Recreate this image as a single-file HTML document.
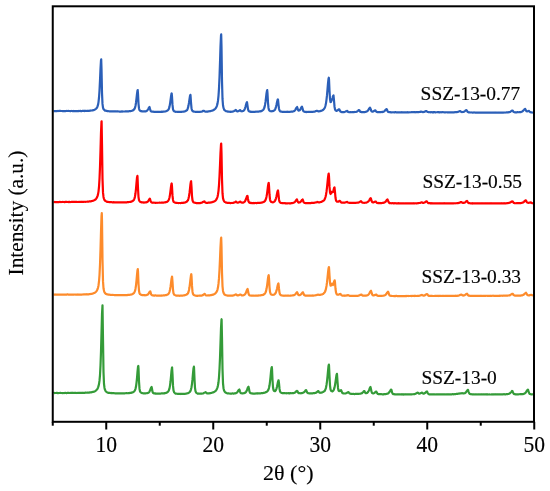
<!DOCTYPE html>
<html><head><meta charset="utf-8"><style>
html,body{margin:0;padding:0;background:#fff;}
body{width:550px;height:491px;overflow:hidden;position:relative;}
svg{position:absolute;left:0;top:0;will-change:transform;}
text{font-family:"Liberation Serif",serif;fill:#000;stroke:#000;stroke-width:0.15px;}
.tk{font-size:22px;}
.sl{font-size:19.4px;}
.ax{font-size:22px;}
.ay{font-size:21.3px;}
</style></head><body>
<svg width="550" height="491" viewBox="0 0 550 491">
<polyline fill="none" stroke="#2b5fb8" stroke-width="2.2" stroke-linejoin="round" points="53.50,111.06 54.00,111.04 54.50,111.09 55.00,111.05 55.50,111.01 56.00,111.07 56.50,111.12 57.00,111.10 57.50,111.00 58.00,110.96 58.50,111.00 59.00,111.04 59.50,110.90 60.00,111.02 60.50,110.96 61.00,110.99 61.50,111.00 62.00,111.01 62.50,111.05 63.00,111.09 63.50,111.02 64.00,111.11 64.50,110.98 65.00,111.04 65.50,111.07 66.00,111.02 66.50,110.97 67.00,110.96 67.50,110.98 68.00,111.02 68.50,110.95 69.00,110.99 69.50,110.99 70.00,111.03 70.50,111.02 71.00,111.03 71.50,110.97 72.00,111.00 72.50,111.06 73.00,111.11 73.50,110.94 74.00,111.11 74.50,111.10 75.00,111.07 75.50,111.04 76.00,111.01 76.50,111.11 77.00,111.14 77.50,111.13 78.00,111.10 78.50,111.05 79.00,110.95 79.50,111.02 80.00,111.06 80.50,110.94 81.00,111.04 81.50,111.04 82.00,111.05 82.50,110.93 83.00,110.95 83.50,110.96 84.00,110.91 84.50,111.07 85.00,110.93 85.50,110.96 86.00,110.91 86.50,111.01 87.00,110.97 87.50,110.91 88.00,110.72 88.50,110.82 89.00,110.83 89.50,110.81 90.00,110.67 90.50,110.77 91.00,110.52 91.50,110.49 92.00,110.51 92.50,110.37 93.00,110.37 93.50,110.13 94.00,109.92 94.50,109.73 95.00,109.45 95.50,109.12 96.00,108.84 96.50,108.31 97.00,107.64 97.50,106.47 98.00,104.97 98.50,102.12 99.00,97.71 99.50,90.50 100.00,80.49 100.50,68.88 101.00,60.37 101.20,59.41 101.50,68.66 102.00,92.84 102.50,103.89 103.00,107.57 103.50,109.03 104.00,109.73 104.50,110.13 105.00,110.55 105.50,110.63 106.00,110.81 106.50,111.00 107.00,110.91 107.50,111.13 108.00,111.13 108.50,111.21 109.00,111.24 109.50,111.28 110.00,111.34 110.50,111.27 111.00,111.42 111.50,111.40 112.00,111.42 112.50,111.45 113.00,111.44 113.50,111.46 114.00,111.42 114.50,111.34 115.00,111.43 115.50,111.39 116.00,111.36 116.50,111.47 117.00,111.42 117.50,111.40 118.00,111.40 118.50,111.49 119.00,111.50 119.50,111.56 120.00,111.48 120.50,111.54 121.00,111.56 121.50,111.55 122.00,111.33 122.50,111.55 123.00,111.49 123.50,111.49 124.00,111.48 124.50,111.48 125.00,111.46 125.50,111.41 126.00,111.31 126.50,111.40 127.00,111.34 127.50,111.43 128.00,111.32 128.50,111.31 129.00,111.21 129.50,111.19 130.00,111.16 130.50,111.00 131.00,111.03 131.50,110.90 132.00,110.70 132.50,110.45 133.00,110.40 133.50,110.03 134.00,109.55 134.50,108.84 135.00,107.76 135.50,105.70 136.00,102.70 136.50,98.45 137.00,93.88 137.50,90.42 137.70,90.06 138.00,93.72 138.50,103.75 139.00,108.48 139.50,110.07 140.00,110.65 140.50,110.90 141.00,111.24 141.50,111.19 142.00,111.37 142.50,111.42 143.00,111.39 143.50,111.51 144.00,111.45 144.50,111.42 145.00,111.44 145.50,111.31 146.00,111.31 146.50,111.06 147.00,110.69 147.50,110.09 148.00,109.36 148.50,108.51 149.00,107.45 149.50,106.98 150.00,108.89 150.50,110.52 151.00,111.26 151.50,111.51 152.00,111.69 152.50,111.67 153.00,111.72 153.50,111.69 154.00,111.84 154.50,111.86 155.00,111.79 155.50,111.84 156.00,111.76 156.50,111.81 157.00,111.92 157.50,111.84 158.00,111.97 158.50,111.78 159.00,111.85 159.50,111.80 160.00,111.83 160.50,111.79 161.00,111.74 161.50,111.70 162.00,111.91 162.50,111.69 163.00,111.54 163.50,111.58 164.00,111.61 164.50,111.48 165.00,111.51 165.50,111.40 166.00,111.21 166.50,111.03 167.00,110.80 167.50,110.53 168.00,110.07 168.50,109.57 169.00,108.51 169.50,106.62 170.00,104.03 170.50,100.47 171.00,96.55 171.50,93.61 171.70,93.43 172.00,96.63 172.50,104.94 173.00,109.18 173.50,110.52 174.00,111.22 174.50,111.42 175.00,111.56 175.50,111.85 176.00,111.75 176.50,111.75 177.00,111.87 177.50,111.88 178.00,111.96 178.50,111.85 179.00,111.95 179.50,111.95 180.00,111.85 180.50,111.89 181.00,111.81 181.50,111.97 182.00,111.76 182.50,111.73 183.00,111.63 183.50,111.60 184.00,111.54 184.50,111.48 185.00,111.26 185.50,111.10 186.00,110.79 186.50,110.47 187.00,110.16 187.50,109.20 188.00,107.72 188.50,105.59 189.00,102.65 189.50,99.09 190.00,95.84 190.40,94.76 190.50,95.08 191.00,102.67 191.50,108.21 192.00,110.26 192.50,111.02 193.00,111.35 193.50,111.41 194.00,111.71 194.50,111.72 195.00,111.77 195.50,111.83 196.00,111.93 196.50,111.83 197.00,111.82 197.50,111.95 198.00,111.95 198.50,111.84 199.00,111.92 199.50,111.85 200.00,111.85 200.50,111.72 201.00,111.78 201.50,111.71 202.00,111.54 202.50,111.35 203.00,110.86 203.50,110.89 203.90,110.80 204.00,110.81 204.50,111.18 205.00,111.52 205.50,111.63 206.00,111.60 206.50,111.57 207.00,111.65 207.50,111.47 208.00,111.55 208.50,111.44 209.00,111.32 209.50,111.27 210.00,111.15 210.50,111.15 211.00,111.02 211.50,110.84 212.00,110.66 212.50,110.57 213.00,110.41 213.50,110.10 214.00,109.84 214.50,109.43 215.00,109.02 215.50,108.45 216.00,107.78 216.50,106.74 217.00,105.57 217.50,103.61 218.00,100.65 218.50,95.81 219.00,88.35 219.50,77.24 220.00,62.78 220.50,46.58 221.00,35.50 221.20,34.41 221.50,46.54 222.00,80.92 222.50,98.93 223.00,105.27 223.50,107.87 224.00,109.20 224.50,110.10 225.00,110.54 225.50,110.76 226.00,111.22 226.50,111.25 227.00,111.36 227.50,111.60 228.00,111.58 228.50,111.62 229.00,111.69 229.50,111.76 230.00,111.79 230.50,111.66 231.00,111.86 231.50,111.78 232.00,111.67 232.50,111.58 233.00,111.47 233.50,111.37 234.00,111.08 234.50,110.74 235.00,110.44 235.50,110.10 235.80,109.98 236.00,110.16 236.50,110.95 237.00,111.23 237.50,111.33 238.00,111.32 238.50,111.09 239.00,110.76 239.50,110.49 240.00,110.15 240.10,110.11 240.50,110.48 241.00,111.11 241.50,111.27 242.00,111.30 242.50,111.17 243.00,111.02 243.50,110.71 244.00,110.32 244.50,109.59 245.00,108.37 245.50,106.79 246.00,104.79 246.50,102.97 247.00,102.11 247.50,105.54 248.00,109.08 248.50,110.76 249.00,111.32 249.50,111.52 250.00,111.71 250.50,111.67 251.00,111.93 251.50,111.75 252.00,111.91 252.50,111.79 253.00,111.93 253.50,111.84 254.00,111.86 254.50,111.85 255.00,111.89 255.50,111.79 256.00,111.61 256.50,111.71 257.00,111.74 257.50,111.66 258.00,111.69 258.50,111.65 259.00,111.52 259.50,111.37 260.00,111.45 260.50,111.32 261.00,111.11 261.50,111.08 262.00,110.72 262.50,110.39 263.00,110.06 263.50,109.55 264.00,108.53 264.50,107.28 265.00,104.94 265.50,101.93 266.00,97.86 266.50,93.47 267.00,90.58 267.20,90.11 267.50,93.47 268.00,102.79 268.50,107.92 269.00,109.88 269.50,110.62 270.00,110.96 270.50,111.22 271.00,111.26 271.50,111.30 272.00,111.18 272.50,111.16 273.00,111.08 273.50,110.88 274.00,110.63 274.50,110.22 275.00,109.57 275.50,108.45 276.00,106.86 276.50,104.69 277.00,102.18 277.50,100.14 277.90,99.39 278.00,99.68 278.50,104.60 279.00,108.71 279.50,110.47 280.00,111.23 280.50,111.51 281.00,111.64 281.50,111.67 282.00,111.78 282.50,111.82 283.00,111.85 283.50,111.74 284.00,111.85 284.50,111.91 285.00,112.01 285.50,111.94 286.00,112.01 286.50,111.90 287.00,111.90 287.50,111.68 288.00,111.93 288.50,111.92 289.00,111.98 289.50,111.83 290.00,111.85 290.50,111.77 291.00,111.71 291.50,111.70 292.00,111.66 292.50,111.69 293.00,111.51 293.50,111.31 294.00,111.14 294.50,110.79 295.00,110.20 295.50,109.58 296.00,108.49 296.50,107.67 297.00,107.17 297.10,107.02 297.50,108.12 298.00,109.93 298.50,110.64 299.00,110.58 299.50,110.36 300.00,109.93 300.50,109.06 301.00,108.04 301.50,107.13 302.00,106.74 302.50,108.37 303.00,110.37 303.50,111.29 304.00,111.58 304.50,111.75 305.00,111.92 305.50,111.83 306.00,112.03 306.50,112.05 307.00,111.84 307.50,111.94 308.00,111.98 308.50,111.91 309.00,111.90 309.50,111.93 310.00,111.98 310.50,111.89 311.00,112.01 311.50,111.90 312.00,111.85 312.50,111.92 313.00,111.83 313.50,111.77 314.00,111.66 314.50,111.70 315.00,111.51 315.50,111.28 316.00,111.01 316.50,110.93 317.00,110.73 317.50,110.91 318.00,111.24 318.50,111.35 319.00,111.38 319.50,111.25 320.00,111.19 320.50,110.95 321.00,110.88 321.50,110.72 322.00,110.56 322.50,110.26 323.00,109.98 323.50,109.49 324.00,109.00 324.50,108.25 325.00,107.06 325.50,105.52 326.00,103.10 326.50,99.60 327.00,95.17 327.50,89.42 328.00,83.37 328.50,78.81 328.80,77.71 329.00,79.35 329.50,90.79 330.00,99.17 330.50,102.05 331.00,101.91 331.50,100.66 332.00,99.40 332.50,98.03 333.00,96.14 333.50,95.46 334.00,100.49 334.50,106.46 335.00,109.37 335.50,110.31 336.00,110.69 336.50,110.82 337.00,110.68 337.50,110.54 338.00,109.98 338.50,109.60 339.00,109.34 339.20,109.29 339.50,109.65 340.00,110.84 340.50,111.62 341.00,111.82 341.50,112.04 342.00,111.97 342.50,112.05 343.00,112.10 343.50,112.01 344.00,112.09 344.50,111.97 345.00,111.79 345.50,111.57 346.00,111.33 346.50,111.19 347.00,110.95 347.20,110.92 347.50,111.16 348.00,111.86 348.50,112.06 349.00,112.21 349.50,112.22 350.00,112.28 350.50,112.16 351.00,112.21 351.50,112.25 352.00,112.22 352.50,112.20 353.00,112.15 353.50,112.15 354.00,112.09 354.50,111.96 355.00,111.98 355.50,112.01 356.00,111.96 356.50,111.81 357.00,111.46 357.50,111.18 358.00,110.78 358.50,110.29 359.00,110.01 359.10,110.10 359.50,110.45 360.00,111.39 360.50,111.88 361.00,111.93 361.50,112.07 362.00,112.17 362.50,112.12 363.00,112.12 363.50,112.13 364.00,112.15 364.50,112.02 365.00,112.03 365.50,111.88 366.00,111.75 366.50,111.65 367.00,111.36 367.50,111.01 368.00,110.49 368.50,109.70 369.00,109.01 369.50,108.10 370.00,107.71 370.10,107.79 370.50,108.61 371.00,110.35 371.50,111.36 372.00,111.60 372.50,111.66 373.00,111.48 373.50,111.34 374.00,110.97 374.50,110.65 375.00,110.48 375.30,110.36 375.50,110.56 376.00,111.41 376.50,111.69 377.00,111.97 377.50,112.17 378.00,112.13 378.50,112.22 379.00,112.10 379.50,112.18 380.00,112.14 380.50,112.14 381.00,112.13 381.50,112.00 382.00,111.96 382.50,112.04 383.00,111.86 383.50,111.69 384.00,111.43 384.50,111.09 385.00,110.51 385.50,109.93 386.00,109.50 386.50,109.12 386.60,109.15 387.00,109.74 387.50,111.13 388.00,111.76 388.50,112.04 389.00,112.15 389.50,112.13 390.00,112.11 390.50,112.18 391.00,112.36 391.50,112.35 392.00,112.26 392.50,112.27 393.00,112.35 393.50,112.28 394.00,112.22 394.50,112.37 395.00,112.33 395.50,112.15 396.00,112.28 396.50,112.31 397.00,112.33 397.50,112.31 398.00,112.27 398.50,112.30 399.00,112.32 399.50,112.29 400.00,112.28 400.50,112.38 401.00,112.25 401.50,112.28 402.00,112.18 402.50,112.33 403.00,112.35 403.50,112.33 404.00,112.35 404.50,112.33 405.00,112.32 405.50,112.33 406.00,112.28 406.50,112.37 407.00,112.27 407.50,112.20 408.00,112.34 408.50,112.40 409.00,112.23 409.50,112.28 410.00,112.24 410.50,112.26 411.00,112.28 411.50,112.20 412.00,112.26 412.50,112.18 413.00,112.23 413.50,112.19 414.00,112.20 414.50,112.15 415.00,112.32 415.50,112.27 416.00,112.12 416.50,112.19 417.00,112.17 417.50,112.15 418.00,112.08 418.50,112.17 419.00,112.04 419.50,112.01 420.00,111.92 420.50,111.85 421.00,111.55 421.50,111.70 422.00,111.82 422.50,111.96 423.00,112.13 423.50,111.97 424.00,111.91 424.50,111.68 425.00,111.60 425.50,111.33 426.00,111.12 426.40,111.23 426.50,111.10 427.00,111.54 427.50,111.91 428.00,112.06 428.50,112.21 429.00,112.25 429.50,112.25 430.00,112.09 430.50,112.30 431.00,112.23 431.50,112.18 432.00,112.29 432.50,112.29 433.00,112.19 433.50,112.41 434.00,112.18 434.50,112.15 435.00,112.19 435.50,112.34 436.00,112.25 436.50,112.23 437.00,112.25 437.50,112.22 438.00,112.21 438.50,112.21 439.00,112.29 439.50,112.31 440.00,112.19 440.50,112.27 441.00,112.31 441.50,112.20 442.00,112.24 442.50,112.21 443.00,112.19 443.50,112.28 444.00,112.23 444.50,112.32 445.00,112.28 445.50,112.31 446.00,112.27 446.50,112.26 447.00,112.29 447.50,112.30 448.00,112.26 448.50,112.33 449.00,112.35 449.50,112.32 450.00,112.41 450.50,112.27 451.00,112.34 451.50,112.28 452.00,112.32 452.50,112.25 453.00,112.37 453.50,112.30 454.00,112.36 454.50,112.20 455.00,112.23 455.50,112.19 456.00,112.18 456.50,112.12 457.00,112.09 457.50,111.99 458.00,111.84 458.50,111.62 459.00,111.45 459.50,111.28 460.00,111.05 460.10,111.10 460.50,111.32 461.00,111.80 461.50,112.01 462.00,112.08 462.50,112.01 463.00,112.00 463.50,111.82 464.00,111.71 464.50,111.39 465.00,111.03 465.50,110.56 466.00,110.30 466.50,110.14 467.00,110.82 467.50,111.76 468.00,112.08 468.50,112.35 469.00,112.35 469.50,112.43 470.00,112.46 470.50,112.48 471.00,112.52 471.50,112.47 472.00,112.51 472.50,112.55 473.00,112.63 473.50,112.48 474.00,112.43 474.50,112.51 475.00,112.56 475.50,112.56 476.00,112.56 476.50,112.63 477.00,112.62 477.50,112.56 478.00,112.54 478.50,112.55 479.00,112.56 479.50,112.57 480.00,112.49 480.50,112.56 481.00,112.56 481.50,112.58 482.00,112.58 482.50,112.64 483.00,112.57 483.50,112.57 484.00,112.63 484.50,112.59 485.00,112.62 485.50,112.65 486.00,112.64 486.50,112.63 487.00,112.60 487.50,112.66 488.00,112.63 488.50,112.59 489.00,112.62 489.50,112.55 490.00,112.57 490.50,112.52 491.00,112.59 491.50,112.71 492.00,112.60 492.50,112.68 493.00,112.64 493.50,112.60 494.00,112.72 494.50,112.68 495.00,112.54 495.50,112.71 496.00,112.58 496.50,112.64 497.00,112.69 497.50,112.63 498.00,112.72 498.50,112.70 499.00,112.56 499.50,112.62 500.00,112.67 500.50,112.61 501.00,112.62 501.50,112.67 502.00,112.63 502.50,112.55 503.00,112.60 503.50,112.54 504.00,112.50 504.50,112.49 505.00,112.56 505.50,112.52 506.00,112.50 506.50,112.41 507.00,112.44 507.50,112.35 508.00,112.31 508.50,112.29 509.00,112.12 509.50,112.11 510.00,112.03 510.50,111.65 511.00,111.24 511.50,110.93 512.00,110.54 512.50,110.48 513.00,111.05 513.50,111.76 514.00,112.04 514.50,112.27 515.00,112.38 515.50,112.44 516.00,112.30 516.50,112.29 517.00,112.34 517.50,112.14 518.00,112.27 518.50,112.26 519.00,112.22 519.50,112.12 520.00,112.15 520.50,112.05 521.00,112.05 521.50,111.80 522.00,111.63 522.50,111.34 523.00,110.97 523.50,110.26 524.00,109.79 524.50,109.29 525.00,108.90 525.10,108.81 525.50,109.49 526.00,110.66 526.50,111.26 527.00,111.36 527.50,111.30 528.00,111.16 528.50,110.98 528.90,110.88 529.00,110.98 529.50,111.50 530.00,111.95 530.50,112.22 531.00,112.34 531.50,112.44 532.00,112.55 532.50,112.48 533.00,112.36"/>
<polyline fill="none" stroke="#ff0000" stroke-width="2.2" stroke-linejoin="round" points="53.50,202.04 54.00,202.07 54.50,202.04 55.00,201.94 55.50,202.07 56.00,202.04 56.50,201.98 57.00,202.05 57.50,202.03 58.00,202.03 58.50,202.01 59.00,202.04 59.50,201.96 60.00,201.99 60.50,201.97 61.00,202.04 61.50,202.00 62.00,201.98 62.50,201.95 63.00,201.98 63.50,201.99 64.00,201.97 64.50,202.06 65.00,202.04 65.50,201.82 66.00,201.86 66.50,201.96 67.00,201.95 67.50,201.98 68.00,201.98 68.50,202.09 69.00,201.89 69.50,201.93 70.00,202.07 70.50,201.99 71.00,201.99 71.50,201.92 72.00,201.86 72.50,201.97 73.00,201.96 73.50,201.88 74.00,201.92 74.50,201.95 75.00,201.90 75.50,201.95 76.00,201.96 76.50,201.95 77.00,201.92 77.50,201.98 78.00,202.00 78.50,201.96 79.00,201.89 79.50,201.97 80.00,201.89 80.50,201.97 81.00,201.85 81.50,201.96 82.00,201.89 82.50,201.81 83.00,201.85 83.50,201.86 84.00,201.86 84.50,201.76 85.00,201.74 85.50,201.80 86.00,201.73 86.50,201.75 87.00,201.75 87.50,201.57 88.00,201.65 88.50,201.66 89.00,201.53 89.50,201.44 90.00,201.47 90.50,201.37 91.00,201.33 91.50,201.16 92.00,200.98 92.50,200.93 93.00,200.75 93.50,200.64 94.00,200.39 94.50,200.02 95.00,199.72 95.50,199.44 96.00,198.91 96.50,198.17 97.00,197.34 97.50,196.16 98.00,194.38 98.50,191.57 99.00,186.81 99.50,179.02 100.00,167.05 100.50,150.74 101.00,132.50 101.50,121.65 101.60,121.30 102.00,144.10 102.50,178.62 103.00,192.40 103.50,196.98 104.00,198.86 104.50,199.98 105.00,200.67 105.50,201.05 106.00,201.27 106.50,201.44 107.00,201.80 107.50,201.81 108.00,201.87 108.50,201.99 109.00,202.03 109.50,202.15 110.00,202.14 110.50,202.18 111.00,202.16 111.50,202.26 112.00,202.19 112.50,202.32 113.00,202.39 113.50,202.22 114.00,202.18 114.50,202.37 115.00,202.50 115.50,202.30 116.00,202.29 116.50,202.41 117.00,202.33 117.50,202.36 118.00,202.37 118.50,202.43 119.00,202.37 119.50,202.42 120.00,202.39 120.50,202.35 121.00,202.38 121.50,202.34 122.00,202.40 122.50,202.33 123.00,202.32 123.50,202.47 124.00,202.37 124.50,202.36 125.00,202.38 125.50,202.31 126.00,202.30 126.50,202.32 127.00,202.28 127.50,202.16 128.00,202.25 128.50,202.12 129.00,202.03 129.50,201.98 130.00,201.93 130.50,201.96 131.00,201.67 131.50,201.60 132.00,201.27 132.50,201.14 133.00,200.86 133.50,200.30 134.00,199.53 134.50,198.37 135.00,196.41 135.50,193.25 136.00,188.76 136.50,182.91 137.00,177.57 137.40,175.89 137.50,176.49 138.00,188.49 138.50,197.03 139.00,200.08 139.50,201.04 140.00,201.71 140.50,201.93 141.00,202.08 141.50,202.31 142.00,202.43 142.50,202.43 143.00,202.45 143.50,202.41 144.00,202.65 144.50,202.52 145.00,202.39 145.50,202.37 146.00,202.37 146.50,202.17 147.00,202.10 147.50,201.77 148.00,201.41 148.50,200.72 149.00,199.66 149.50,199.05 149.90,198.70 150.00,198.95 150.50,200.67 151.00,201.98 151.50,202.35 152.00,202.69 152.50,202.78 153.00,202.64 153.50,202.76 154.00,202.72 154.50,202.77 155.00,202.70 155.50,202.90 156.00,202.73 156.50,202.77 157.00,202.82 157.50,202.75 158.00,202.77 158.50,202.74 159.00,202.76 159.50,202.69 160.00,202.72 160.50,202.73 161.00,202.71 161.50,202.71 162.00,202.67 162.50,202.71 163.00,202.61 163.50,202.58 164.00,202.50 164.50,202.45 165.00,202.33 165.50,202.34 166.00,202.12 166.50,201.98 167.00,201.84 167.50,201.54 168.00,201.06 168.50,200.26 169.00,199.28 169.50,197.45 170.00,194.61 170.50,191.02 171.00,186.74 171.50,183.74 171.70,183.51 172.00,186.72 172.50,195.64 173.00,199.95 173.50,201.66 174.00,202.11 174.50,202.37 175.00,202.69 175.50,202.76 176.00,202.88 176.50,202.90 177.00,202.96 177.50,203.00 178.00,202.96 178.50,203.06 179.00,203.00 179.50,202.98 180.00,203.03 180.50,203.04 181.00,202.99 181.50,202.93 182.00,202.99 182.50,202.80 183.00,202.78 183.50,202.78 184.00,202.61 184.50,202.59 185.00,202.46 185.50,202.36 186.00,202.05 186.50,201.79 187.00,201.47 187.50,200.73 188.00,200.17 188.50,198.49 189.00,196.21 189.50,192.97 190.00,188.55 190.50,183.87 191.00,181.33 191.10,181.25 191.50,186.84 192.00,196.08 192.50,200.25 193.00,201.57 193.50,202.24 194.00,202.55 194.50,202.69 195.00,202.76 195.50,202.91 196.00,202.93 196.50,203.08 197.00,203.05 197.50,203.10 198.00,203.06 198.50,203.07 199.00,203.00 199.50,203.07 200.00,203.11 200.50,202.94 201.00,202.86 201.50,202.78 202.00,202.60 202.50,202.34 203.00,202.07 203.50,201.66 204.00,201.46 204.30,201.30 204.50,201.45 205.00,202.25 205.50,202.64 206.00,202.89 206.50,202.80 207.00,202.79 207.50,202.80 208.00,202.79 208.50,202.67 209.00,202.71 209.50,202.56 210.00,202.68 210.50,202.52 211.00,202.40 211.50,202.29 212.00,202.21 212.50,202.08 213.00,201.88 213.50,201.70 214.00,201.52 214.50,201.22 215.00,200.97 215.50,200.56 216.00,199.96 216.50,199.27 217.00,198.16 217.50,196.81 218.00,194.47 218.50,190.82 219.00,185.12 219.50,176.42 220.00,165.36 220.50,152.97 221.00,144.53 221.20,143.52 221.50,152.83 222.00,179.33 222.50,193.22 223.00,198.11 223.50,200.00 224.00,201.03 224.50,201.72 225.00,202.06 225.50,202.22 226.00,202.56 226.50,202.67 227.00,202.80 227.50,202.81 228.00,202.93 228.50,202.86 229.00,202.99 229.50,202.95 230.00,203.04 230.50,203.07 231.00,202.96 231.50,202.99 232.00,202.98 232.50,203.01 233.00,202.91 233.50,202.68 234.00,202.61 234.50,202.39 235.00,202.17 235.50,201.65 236.00,201.57 236.50,202.13 237.00,202.45 237.50,202.60 238.00,202.64 238.50,202.51 239.00,202.16 239.50,201.94 240.00,201.67 240.30,201.69 240.50,201.69 241.00,202.33 241.50,202.56 242.00,202.69 242.50,202.67 243.00,202.66 243.50,202.48 244.00,202.16 244.50,201.86 245.00,201.25 245.50,200.28 246.00,199.01 246.50,197.52 247.00,196.11 247.40,195.81 247.50,195.95 248.00,198.92 248.50,201.44 249.00,202.27 249.50,202.67 250.00,202.83 250.50,203.07 251.00,202.91 251.50,203.07 252.00,203.11 252.50,203.09 253.00,203.14 253.50,203.01 254.00,202.93 254.50,203.11 255.00,202.98 255.50,203.02 256.00,202.96 256.50,203.08 257.00,203.05 257.50,202.94 258.00,203.01 258.50,202.93 259.00,202.88 259.50,202.85 260.00,202.79 260.50,202.78 261.00,202.70 261.50,202.58 262.00,202.56 262.50,202.34 263.00,202.24 263.50,202.05 264.00,201.85 264.50,201.37 265.00,200.96 265.50,200.03 266.00,198.70 266.50,196.65 267.00,193.84 267.50,190.07 268.00,185.97 268.50,183.22 268.70,182.97 269.00,185.90 269.50,194.69 270.00,199.47 270.50,201.16 271.00,201.78 271.50,202.03 272.00,202.19 272.50,202.28 273.00,202.31 273.50,202.12 274.00,201.82 274.50,201.47 275.00,200.81 275.50,199.80 276.00,198.34 276.50,196.28 277.00,193.84 277.50,191.35 278.00,190.38 278.50,194.68 279.00,199.42 279.50,201.67 280.00,202.40 280.50,202.68 281.00,202.92 281.50,203.02 282.00,203.09 282.50,203.15 283.00,203.21 283.50,203.26 284.00,203.20 284.50,203.27 285.00,203.19 285.50,203.31 286.00,203.34 286.50,203.31 287.00,203.32 287.50,203.34 288.00,203.26 288.50,203.27 289.00,203.30 289.50,203.31 290.00,203.26 290.50,203.36 291.00,203.17 291.50,203.19 292.00,203.16 292.50,203.00 293.00,202.86 293.50,202.70 294.00,202.56 294.50,202.29 295.00,201.76 295.50,201.12 296.00,200.34 296.50,199.75 296.90,199.37 297.00,199.57 297.50,200.95 298.00,202.00 298.50,202.64 299.00,202.49 299.50,202.41 300.00,202.17 300.50,201.93 301.00,201.25 301.50,200.65 302.00,199.94 302.50,199.53 302.60,199.42 303.00,200.31 303.50,201.95 304.00,202.53 304.50,202.83 305.00,202.97 305.50,203.09 306.00,203.08 306.50,203.13 307.00,203.02 307.50,203.14 308.00,203.12 308.50,202.98 309.00,203.16 309.50,203.19 310.00,202.99 310.50,203.02 311.00,203.08 311.50,202.89 312.00,202.83 312.50,202.84 313.00,202.85 313.50,202.80 314.00,202.82 314.50,202.72 315.00,202.53 315.50,202.50 316.00,202.41 316.50,202.18 317.00,202.01 317.30,201.90 317.50,201.99 318.00,202.12 318.50,202.37 319.00,202.32 319.50,202.34 320.00,202.22 320.50,202.01 321.00,201.95 321.50,201.86 322.00,201.53 322.50,201.32 323.00,201.02 323.50,200.60 324.00,200.25 324.50,199.57 325.00,198.52 325.50,196.99 326.00,194.77 326.50,191.69 327.00,187.52 327.50,182.66 328.00,177.64 328.50,174.18 328.70,173.57 329.00,176.48 329.50,186.40 330.00,192.44 330.50,194.02 331.00,193.56 331.50,192.69 331.90,191.91 332.00,191.70 332.50,192.14 333.00,191.93 333.50,190.19 334.00,188.15 334.50,187.33 335.00,192.15 335.50,197.74 336.00,200.37 336.50,201.26 337.00,201.70 337.50,201.74 338.00,201.66 338.50,201.58 339.00,201.22 339.50,200.89 339.90,200.94 340.00,201.04 340.50,201.54 341.00,202.30 341.50,202.57 342.00,202.60 342.50,202.64 343.00,202.72 343.50,202.71 344.00,202.78 344.50,202.67 345.00,202.46 345.50,202.36 346.00,202.27 346.50,202.15 347.00,201.94 347.20,201.92 347.50,202.15 348.00,202.47 348.50,202.71 349.00,202.75 349.50,202.84 350.00,203.02 350.50,202.81 351.00,202.90 351.50,202.82 352.00,202.91 352.50,202.95 353.00,202.88 353.50,202.93 354.00,202.92 354.50,202.89 355.00,202.95 355.50,202.89 356.00,202.80 356.50,202.76 357.00,202.71 357.50,202.73 358.00,202.60 358.50,202.64 359.00,202.39 359.50,202.01 360.00,201.69 360.50,201.53 361.00,201.19 361.50,201.76 362.00,202.44 362.50,202.60 363.00,202.73 363.50,202.76 364.00,202.83 364.50,202.78 365.00,202.77 365.50,202.74 366.00,202.64 366.50,202.61 367.00,202.36 367.50,202.09 368.00,201.73 368.50,201.23 369.00,200.59 369.50,199.82 370.00,198.87 370.50,198.23 370.70,198.14 371.00,198.79 371.50,200.75 372.00,201.90 372.50,202.25 373.00,202.39 373.50,202.42 374.00,202.06 374.50,201.95 375.00,201.60 375.50,201.61 375.60,201.56 376.00,201.80 376.50,202.52 377.00,202.95 377.50,202.97 378.00,203.09 378.50,203.04 379.00,202.93 379.50,203.09 380.00,203.04 380.50,202.97 381.00,203.09 381.50,203.04 382.00,202.97 382.50,203.01 383.00,202.85 383.50,202.85 384.00,202.62 384.50,202.50 385.00,202.08 385.50,201.79 386.00,201.11 386.50,200.48 387.00,199.72 387.50,199.47 388.00,200.68 388.50,201.86 389.00,202.66 389.50,203.05 390.00,203.14 390.50,203.24 391.00,203.20 391.50,203.29 392.00,203.23 392.50,203.21 393.00,203.21 393.50,203.29 394.00,203.30 394.50,203.30 395.00,203.14 395.50,203.23 396.00,203.32 396.50,203.37 397.00,203.32 397.50,203.31 398.00,203.22 398.50,203.48 399.00,203.30 399.50,203.46 400.00,203.46 400.50,203.38 401.00,203.33 401.50,203.37 402.00,203.30 402.50,203.38 403.00,203.36 403.50,203.40 404.00,203.42 404.50,203.47 405.00,203.34 405.50,203.42 406.00,203.31 406.50,203.31 407.00,203.32 407.50,203.30 408.00,203.42 408.50,203.41 409.00,203.43 409.50,203.35 410.00,203.37 410.50,203.31 411.00,203.28 411.50,203.37 412.00,203.36 412.50,203.27 413.00,203.37 413.50,203.22 414.00,203.31 414.50,203.28 415.00,203.28 415.50,203.23 416.00,203.34 416.50,203.31 417.00,203.33 417.50,203.24 418.00,203.12 418.50,203.13 419.00,203.01 419.50,203.00 420.00,202.91 420.50,202.69 421.00,202.45 421.50,202.32 421.80,202.31 422.00,202.25 422.50,202.66 423.00,202.86 423.50,202.83 424.00,202.73 424.50,202.56 425.00,202.22 425.50,201.86 426.00,201.60 426.50,201.33 426.70,201.40 427.00,201.50 427.50,202.28 428.00,202.97 428.50,203.19 429.00,203.18 429.50,203.18 430.00,203.29 430.50,203.21 431.00,203.30 431.50,203.20 432.00,203.32 432.50,203.21 433.00,203.33 433.50,203.44 434.00,203.33 434.50,203.40 435.00,203.31 435.50,203.30 436.00,203.27 436.50,203.42 437.00,203.35 437.50,203.45 438.00,203.29 438.50,203.34 439.00,203.36 439.50,203.44 440.00,203.47 440.50,203.32 441.00,203.29 441.50,203.25 442.00,203.43 442.50,203.35 443.00,203.31 443.50,203.35 444.00,203.20 444.50,203.25 445.00,203.41 445.50,203.37 446.00,203.36 446.50,203.29 447.00,203.38 447.50,203.45 448.00,203.27 448.50,203.34 449.00,203.31 449.50,203.36 450.00,203.33 450.50,203.32 451.00,203.27 451.50,203.32 452.00,203.28 452.50,203.30 453.00,203.30 453.50,203.34 454.00,203.26 454.50,203.26 455.00,203.34 455.50,203.25 456.00,203.23 456.50,203.27 457.00,203.21 457.50,203.16 458.00,203.10 458.50,202.93 459.00,202.91 459.50,202.80 460.00,202.55 460.50,202.21 461.00,202.16 461.30,202.04 461.50,202.14 462.00,202.56 462.50,202.77 463.00,203.01 463.50,202.89 464.00,202.83 464.50,202.64 465.00,202.41 465.50,202.06 466.00,201.50 466.50,201.24 467.00,200.97 467.50,201.69 468.00,202.58 468.50,203.02 469.00,203.21 469.50,203.19 470.00,203.27 470.50,203.29 471.00,203.37 471.50,203.41 472.00,203.30 472.50,203.55 473.00,203.33 473.50,203.31 474.00,203.37 474.50,203.39 475.00,203.38 475.50,203.30 476.00,203.43 476.50,203.35 477.00,203.44 477.50,203.43 478.00,203.27 478.50,203.29 479.00,203.29 479.50,203.36 480.00,203.35 480.50,203.37 481.00,203.30 481.50,203.38 482.00,203.43 482.50,203.27 483.00,203.34 483.50,203.36 484.00,203.34 484.50,203.34 485.00,203.46 485.50,203.43 486.00,203.40 486.50,203.30 487.00,203.48 487.50,203.37 488.00,203.31 488.50,203.33 489.00,203.32 489.50,203.47 490.00,203.36 490.50,203.35 491.00,203.21 491.50,203.39 492.00,203.28 492.50,203.27 493.00,203.38 493.50,203.29 494.00,203.39 494.50,203.40 495.00,203.23 495.50,203.33 496.00,203.24 496.50,203.33 497.00,203.38 497.50,203.25 498.00,203.43 498.50,203.30 499.00,203.25 499.50,203.31 500.00,203.36 500.50,203.23 501.00,203.31 501.50,203.22 502.00,203.37 502.50,203.30 503.00,203.26 503.50,203.34 504.00,203.20 504.50,203.24 505.00,203.36 505.50,203.23 506.00,203.31 506.50,203.22 507.00,203.14 507.50,203.13 508.00,203.11 508.50,203.02 509.00,202.89 509.50,202.76 510.00,202.52 510.50,202.35 511.00,202.04 511.50,201.71 512.00,201.27 512.40,201.35 512.50,201.32 513.00,201.90 513.50,202.65 514.00,203.02 514.50,203.14 515.00,203.21 515.50,203.25 516.00,203.26 516.50,203.21 517.00,203.09 517.50,203.16 518.00,203.22 518.50,203.16 519.00,203.21 519.50,203.20 520.00,203.13 520.50,203.20 521.00,202.98 521.50,203.02 522.00,202.83 522.50,202.66 523.00,202.52 523.50,202.13 524.00,201.81 524.50,201.19 525.00,200.75 525.50,200.33 525.80,200.28 526.00,200.42 526.50,201.44 527.00,202.39 527.50,202.64 528.00,202.75 528.50,202.84 529.00,202.76 529.50,202.62 530.00,202.48 530.50,202.54 530.60,202.33 531.00,202.53 531.50,202.85 532.00,203.18 532.50,203.24 533.00,203.33"/>
<polyline fill="none" stroke="#fd8b2b" stroke-width="2.2" stroke-linejoin="round" points="53.50,294.63 54.00,294.59 54.50,294.59 55.00,294.47 55.50,294.72 56.00,294.68 56.50,294.59 57.00,294.66 57.50,294.63 58.00,294.58 58.50,294.67 59.00,294.59 59.50,294.58 60.00,294.55 60.50,294.63 61.00,294.59 61.50,294.63 62.00,294.56 62.50,294.60 63.00,294.54 63.50,294.64 64.00,294.60 64.50,294.60 65.00,294.61 65.50,294.52 66.00,294.62 66.50,294.70 67.00,294.47 67.50,294.46 68.00,294.47 68.50,294.61 69.00,294.57 69.50,294.62 70.00,294.59 70.50,294.57 71.00,294.57 71.50,294.55 72.00,294.61 72.50,294.49 73.00,294.54 73.50,294.58 74.00,294.67 74.50,294.52 75.00,294.50 75.50,294.53 76.00,294.62 76.50,294.55 77.00,294.64 77.50,294.45 78.00,294.63 78.50,294.62 79.00,294.47 79.50,294.56 80.00,294.62 80.50,294.55 81.00,294.59 81.50,294.67 82.00,294.54 82.50,294.49 83.00,294.45 83.50,294.53 84.00,294.46 84.50,294.45 85.00,294.43 85.50,294.46 86.00,294.34 86.50,294.28 87.00,294.20 87.50,294.39 88.00,294.29 88.50,294.33 89.00,294.20 89.50,294.10 90.00,294.12 90.50,294.01 91.00,293.87 91.50,293.80 92.00,293.85 92.50,293.65 93.00,293.51 93.50,293.29 94.00,293.06 94.50,292.91 95.00,292.55 95.50,292.14 96.00,291.71 96.50,291.06 97.00,290.35 97.50,289.34 98.00,287.70 98.50,285.47 99.00,281.47 99.50,275.06 100.00,264.73 100.50,249.91 101.00,231.71 101.50,216.34 101.80,213.16 102.00,220.31 102.50,259.81 103.00,281.15 103.50,288.23 104.00,290.90 104.50,292.28 105.00,293.06 105.50,293.68 106.00,293.90 106.50,294.09 107.00,294.41 107.50,294.38 108.00,294.60 108.50,294.57 109.00,294.72 109.50,294.64 110.00,294.86 110.50,294.83 111.00,294.82 111.50,295.01 112.00,294.98 112.50,294.96 113.00,294.93 113.50,294.99 114.00,295.00 114.50,295.07 115.00,295.09 115.50,295.01 116.00,295.03 116.50,295.04 117.00,295.00 117.50,295.05 118.00,295.09 118.50,295.14 119.00,295.18 119.50,295.06 120.00,295.14 120.50,295.08 121.00,295.24 121.50,295.11 122.00,295.14 122.50,295.05 123.00,295.06 123.50,295.11 124.00,295.07 124.50,295.11 125.00,294.98 125.50,295.11 126.00,295.00 126.50,295.14 127.00,294.99 127.50,295.05 128.00,294.87 128.50,294.94 129.00,294.82 129.50,294.79 130.00,294.76 130.50,294.66 131.00,294.59 131.50,294.50 132.00,294.34 132.50,294.10 133.00,293.76 133.50,293.44 134.00,292.96 134.50,292.05 135.00,290.91 135.50,288.70 136.00,285.35 136.50,280.67 137.00,274.93 137.50,270.18 137.80,269.14 138.00,271.40 138.50,283.80 139.00,290.73 139.50,293.22 140.00,294.08 140.50,294.38 141.00,294.77 141.50,294.85 142.00,295.11 142.50,295.16 143.00,295.10 143.50,295.14 144.00,295.22 144.50,295.20 145.00,295.30 145.50,295.23 146.00,295.12 146.50,295.09 147.00,294.81 147.50,294.72 148.00,294.38 148.50,293.73 149.00,292.89 149.50,292.06 150.00,291.48 150.20,291.31 150.50,291.95 151.00,294.06 151.50,294.81 152.00,295.27 152.50,295.34 153.00,295.50 153.50,295.44 154.00,295.59 154.50,295.55 155.00,295.45 155.50,295.44 156.00,295.55 156.50,295.65 157.00,295.58 157.50,295.58 158.00,295.56 158.50,295.61 159.00,295.59 159.50,295.58 160.00,295.49 160.50,295.61 161.00,295.61 161.50,295.43 162.00,295.63 162.50,295.51 163.00,295.41 163.50,295.29 164.00,295.40 164.50,295.35 165.00,295.21 165.50,295.06 166.00,295.13 166.50,294.90 167.00,294.74 167.50,294.72 168.00,294.36 168.50,293.82 169.00,292.99 169.50,291.83 170.00,289.72 170.50,286.98 171.00,283.13 171.50,279.08 172.00,276.68 172.10,276.73 172.50,281.72 173.00,289.77 173.50,293.32 174.00,294.41 174.50,294.89 175.00,295.14 175.50,295.39 176.00,295.56 176.50,295.58 177.00,295.68 177.50,295.60 178.00,295.67 178.50,295.67 179.00,295.65 179.50,295.83 180.00,295.77 180.50,295.66 181.00,295.65 181.50,295.67 182.00,295.56 182.50,295.63 183.00,295.48 183.50,295.47 184.00,295.36 184.50,295.30 185.00,295.13 185.50,294.98 186.00,294.83 186.50,294.61 187.00,294.31 187.50,293.86 188.00,293.22 188.50,292.00 189.00,290.06 189.50,287.28 190.00,283.28 190.50,278.83 191.00,275.08 191.30,274.22 191.50,276.03 192.00,285.93 192.50,291.66 193.00,293.89 193.50,294.70 194.00,295.00 194.50,295.28 195.00,295.43 195.50,295.61 196.00,295.66 196.50,295.84 197.00,295.68 197.50,295.79 198.00,295.73 198.50,295.75 199.00,295.65 199.50,295.59 200.00,295.64 200.50,295.70 201.00,295.70 201.50,295.57 202.00,295.44 202.50,295.18 203.00,295.06 203.50,294.69 204.00,294.19 204.50,293.93 204.70,293.84 205.00,294.26 205.50,294.98 206.00,295.34 206.50,295.49 207.00,295.51 207.50,295.46 208.00,295.39 208.50,295.35 209.00,295.28 209.50,295.36 210.00,295.41 210.50,295.10 211.00,295.13 211.50,295.06 212.00,294.86 212.50,294.80 213.00,294.57 213.50,294.53 214.00,294.20 214.50,293.98 215.00,293.68 215.50,293.20 216.00,292.59 216.50,291.97 217.00,291.07 217.50,289.59 218.00,287.36 218.50,283.69 219.00,278.14 219.50,269.91 220.00,258.93 220.50,247.03 221.00,238.56 221.20,237.64 221.50,246.64 222.00,272.63 222.50,286.08 223.00,290.95 223.50,292.81 224.00,293.87 224.50,294.44 225.00,294.73 225.50,295.03 226.00,295.26 226.50,295.25 227.00,295.51 227.50,295.57 228.00,295.62 228.50,295.59 229.00,295.65 229.50,295.59 230.00,295.67 230.50,295.64 231.00,295.68 231.50,295.64 232.00,295.67 232.50,295.69 233.00,295.48 233.50,295.51 234.00,295.18 234.50,294.95 235.00,294.79 235.50,294.53 236.00,294.43 236.50,294.73 237.00,295.28 237.50,295.45 238.00,295.50 238.50,295.31 239.00,295.18 239.50,294.85 240.00,294.65 240.50,294.48 240.60,294.54 241.00,294.70 241.50,295.15 242.00,295.41 242.50,295.49 243.00,295.35 243.50,295.24 244.00,295.02 244.50,294.81 245.00,294.30 245.50,293.64 246.00,292.51 246.50,291.11 247.00,289.77 247.50,288.97 247.60,288.92 248.00,290.73 248.50,293.53 249.00,294.74 249.50,295.39 250.00,295.50 250.50,295.52 251.00,295.66 251.50,295.67 252.00,295.65 252.50,295.59 253.00,295.72 253.50,295.73 254.00,295.56 254.50,295.74 255.00,295.73 255.50,295.65 256.00,295.67 256.50,295.63 257.00,295.58 257.50,295.58 258.00,295.66 258.50,295.45 259.00,295.52 259.50,295.47 260.00,295.36 260.50,295.32 261.00,295.19 261.50,295.14 262.00,295.08 262.50,294.98 263.00,294.74 263.50,294.78 264.00,294.29 264.50,293.96 265.00,293.38 265.50,292.52 266.00,291.28 266.50,289.12 267.00,286.28 267.50,282.46 268.00,278.23 268.50,275.56 268.70,275.16 269.00,278.36 269.50,287.02 270.00,291.84 270.50,293.55 271.00,294.25 271.50,294.60 272.00,294.73 272.50,294.78 273.00,294.80 273.50,294.75 274.00,294.71 274.50,294.28 275.00,293.94 275.50,293.27 276.00,292.20 276.50,290.69 277.00,288.64 277.50,286.30 278.00,284.14 278.40,283.47 278.50,283.76 279.00,288.66 279.50,292.66 280.00,294.36 280.50,294.90 281.00,295.27 281.50,295.43 282.00,295.48 282.50,295.49 283.00,295.71 283.50,295.65 284.00,295.85 284.50,295.65 285.00,295.75 285.50,295.68 286.00,295.72 286.50,295.76 287.00,295.66 287.50,295.70 288.00,295.71 288.50,295.70 289.00,295.72 289.50,295.74 290.00,295.71 290.50,295.66 291.00,295.60 291.50,295.52 292.00,295.51 292.50,295.47 293.00,295.47 293.50,295.30 294.00,295.08 294.50,294.94 295.00,294.48 295.50,293.96 296.00,293.34 296.50,292.73 297.00,292.17 297.10,292.23 297.50,293.05 298.00,294.33 298.50,294.92 299.00,295.11 299.50,295.20 300.00,294.95 300.50,294.75 301.00,294.34 301.50,293.69 302.00,293.08 302.50,292.45 302.90,292.26 303.00,292.29 303.50,293.77 304.00,294.83 304.50,295.29 305.00,295.43 305.50,295.69 306.00,295.67 306.50,295.64 307.00,295.62 307.50,295.57 308.00,295.69 308.50,295.68 309.00,295.58 309.50,295.72 310.00,295.69 310.50,295.58 311.00,295.59 311.50,295.58 312.00,295.60 312.50,295.56 313.00,295.44 313.50,295.60 314.00,295.50 314.50,295.51 315.00,295.45 315.50,295.28 316.00,295.20 316.50,295.08 317.00,294.91 317.50,294.69 318.00,294.56 318.50,294.75 319.00,294.88 319.50,294.93 320.00,294.79 320.50,294.83 321.00,294.65 321.50,294.54 322.00,294.40 322.50,294.21 323.00,294.05 323.50,293.62 324.00,293.09 324.50,292.59 325.00,291.70 325.50,290.52 326.00,288.62 326.50,285.98 327.00,282.41 327.50,277.87 328.00,272.78 328.50,268.59 328.90,267.00 329.00,267.31 329.50,275.41 330.00,282.85 330.50,285.60 331.00,285.56 331.50,284.63 332.00,283.54 332.50,284.16 333.00,285.02 333.50,284.07 334.00,281.95 334.50,280.51 334.70,280.30 335.00,282.48 335.50,288.73 336.00,292.45 336.50,293.88 337.00,294.45 337.50,294.68 338.00,294.76 338.50,294.66 339.00,294.41 339.50,294.11 340.00,294.03 340.40,293.99 340.50,293.91 341.00,294.67 341.50,295.15 342.00,295.42 342.50,295.61 343.00,295.77 343.50,295.64 344.00,295.67 344.50,295.81 345.00,295.58 345.50,295.68 346.00,295.60 346.50,295.44 347.00,295.33 347.50,295.33 348.00,295.03 348.10,295.08 348.50,295.26 349.00,295.56 349.50,295.69 350.00,295.93 350.50,295.88 351.00,295.77 351.50,295.84 352.00,295.92 352.50,295.92 353.00,295.81 353.50,295.89 354.00,295.90 354.50,295.91 355.00,295.90 355.50,295.76 356.00,295.96 356.50,295.85 357.00,295.92 357.50,295.94 358.00,295.70 358.50,295.55 359.00,295.55 359.50,295.30 360.00,295.06 360.50,294.77 361.00,294.74 361.30,294.57 361.50,294.59 362.00,295.17 362.50,295.48 363.00,295.70 363.50,295.70 364.00,295.67 364.50,295.76 365.00,295.65 365.50,295.69 366.00,295.67 366.50,295.49 367.00,295.35 367.50,295.21 368.00,294.96 368.50,294.48 369.00,293.86 369.50,293.03 370.00,292.08 370.50,291.22 371.00,290.76 371.50,292.29 372.00,294.17 372.50,295.00 373.00,295.33 373.50,295.41 374.00,295.32 374.50,295.15 375.00,294.93 375.50,294.86 376.00,294.66 376.20,294.53 376.50,294.73 377.00,295.44 377.50,295.75 378.00,295.80 378.50,295.91 379.00,295.78 379.50,295.87 380.00,295.92 380.50,295.76 381.00,295.81 381.50,295.88 382.00,295.88 382.50,295.74 383.00,295.75 383.50,295.76 384.00,295.54 384.50,295.34 385.00,295.19 385.50,294.83 386.00,294.44 386.50,293.71 387.00,292.85 387.50,292.28 388.00,291.68 388.10,291.73 388.50,292.66 389.00,294.39 389.50,295.29 390.00,295.68 390.50,295.80 391.00,295.80 391.50,295.92 392.00,295.96 392.50,295.98 393.00,296.02 393.50,295.99 394.00,296.11 394.50,296.14 395.00,295.92 395.50,296.05 396.00,296.01 396.50,295.90 397.00,296.08 397.50,296.02 398.00,296.04 398.50,296.02 399.00,296.12 399.50,296.13 400.00,296.07 400.50,296.10 401.00,296.05 401.50,296.06 402.00,296.01 402.50,296.06 403.00,296.01 403.50,296.07 404.00,296.10 404.50,296.07 405.00,296.12 405.50,296.20 406.00,295.91 406.50,296.04 407.00,296.00 407.50,296.01 408.00,295.95 408.50,296.03 409.00,296.01 409.50,295.99 410.00,296.01 410.50,295.98 411.00,295.87 411.50,296.07 412.00,295.99 412.50,295.94 413.00,296.01 413.50,295.95 414.00,295.85 414.50,296.03 415.00,295.87 415.50,295.94 416.00,295.95 416.50,296.01 417.00,295.99 417.50,295.90 418.00,295.81 418.50,295.79 419.00,295.82 419.50,295.76 420.00,295.56 420.50,295.32 421.00,295.23 421.50,294.97 422.00,294.88 422.50,295.13 423.00,295.48 423.50,295.57 424.00,295.57 424.50,295.46 425.00,295.20 425.50,294.73 426.00,294.42 426.50,294.20 427.00,294.00 427.10,294.13 427.50,294.40 428.00,295.17 428.50,295.67 429.00,295.85 429.50,295.84 430.00,295.92 430.50,295.85 431.00,295.88 431.50,296.02 432.00,295.86 432.50,296.01 433.00,296.00 433.50,296.00 434.00,296.01 434.50,295.99 435.00,295.83 435.50,295.90 436.00,295.92 436.50,296.01 437.00,295.89 437.50,295.92 438.00,295.94 438.50,296.03 439.00,295.87 439.50,295.87 440.00,295.99 440.50,295.82 441.00,295.97 441.50,295.92 442.00,295.85 442.50,295.92 443.00,295.88 443.50,295.95 444.00,295.96 444.50,296.02 445.00,295.93 445.50,295.94 446.00,295.89 446.50,295.92 447.00,295.99 447.50,295.80 448.00,295.96 448.50,295.88 449.00,295.91 449.50,295.93 450.00,295.95 450.50,295.91 451.00,295.87 451.50,295.91 452.00,295.88 452.50,295.86 453.00,295.88 453.50,295.91 454.00,295.86 454.50,295.85 455.00,295.75 455.50,295.81 456.00,295.69 456.50,295.82 457.00,295.69 457.50,295.78 458.00,295.82 458.50,295.52 459.00,295.50 459.50,295.27 460.00,295.00 460.50,294.76 461.00,294.68 461.30,294.68 461.50,294.68 462.00,294.99 462.50,295.32 463.00,295.46 463.50,295.54 464.00,295.37 464.50,295.21 465.00,295.01 465.50,294.61 466.00,294.25 466.50,293.92 467.00,293.69 467.50,294.40 468.00,295.15 468.50,295.57 469.00,295.60 469.50,295.70 470.00,295.84 470.50,295.82 471.00,295.90 471.50,295.78 472.00,295.85 472.50,295.80 473.00,295.86 473.50,295.82 474.00,295.88 474.50,295.91 475.00,295.89 475.50,295.74 476.00,295.90 476.50,295.87 477.00,295.78 477.50,295.79 478.00,295.85 478.50,295.88 479.00,295.82 479.50,295.75 480.00,295.86 480.50,295.85 481.00,295.99 481.50,295.76 482.00,295.99 482.50,295.94 483.00,295.85 483.50,295.93 484.00,295.84 484.50,295.89 485.00,295.78 485.50,295.83 486.00,295.76 486.50,295.73 487.00,295.80 487.50,295.78 488.00,295.85 488.50,295.89 489.00,295.80 489.50,295.82 490.00,295.82 490.50,295.71 491.00,295.82 491.50,295.80 492.00,295.80 492.50,295.73 493.00,295.68 493.50,295.78 494.00,295.81 494.50,295.87 495.00,295.86 495.50,295.87 496.00,295.80 496.50,295.85 497.00,295.76 497.50,295.81 498.00,295.83 498.50,295.93 499.00,295.78 499.50,295.68 500.00,295.84 500.50,295.70 501.00,295.74 501.50,295.72 502.00,295.68 502.50,295.81 503.00,295.76 503.50,295.68 504.00,295.71 504.50,295.67 505.00,295.72 505.50,295.65 506.00,295.61 506.50,295.60 507.00,295.59 507.50,295.60 508.00,295.49 508.50,295.48 509.00,295.43 509.50,295.42 510.00,295.16 510.50,294.69 511.00,294.53 511.50,294.18 512.00,293.90 512.50,293.80 512.60,293.74 513.00,293.93 513.50,294.85 514.00,295.29 514.50,295.50 515.00,295.63 515.50,295.52 516.00,295.67 516.50,295.51 517.00,295.61 517.50,295.63 518.00,295.74 518.50,295.55 519.00,295.48 519.50,295.60 520.00,295.50 520.50,295.60 521.00,295.42 521.50,295.35 522.00,295.39 522.50,295.19 523.00,295.06 523.50,294.65 524.00,294.47 524.50,293.89 525.00,293.47 525.50,292.93 526.00,292.71 526.50,293.52 527.00,294.55 527.50,295.16 528.00,295.28 528.50,295.34 529.00,295.30 529.50,295.36 530.00,295.00 530.50,294.99 531.00,294.81 531.30,294.82 531.50,294.82 532.00,295.26 532.50,295.38 533.00,295.51"/>
<polyline fill="none" stroke="#349b38" stroke-width="2.2" stroke-linejoin="round" points="53.50,393.15 54.00,392.87 54.50,393.05 55.00,392.99 55.50,392.99 56.00,393.00 56.50,392.89 57.00,393.00 57.50,392.96 58.00,393.21 58.50,393.02 59.00,392.99 59.50,392.99 60.00,392.96 60.50,392.94 61.00,392.98 61.50,393.03 62.00,392.98 62.50,393.05 63.00,392.98 63.50,392.99 64.00,393.08 64.50,393.02 65.00,392.95 65.50,392.97 66.00,393.01 66.50,393.09 67.00,392.95 67.50,392.95 68.00,393.02 68.50,392.91 69.00,392.94 69.50,393.01 70.00,392.98 70.50,392.96 71.00,392.99 71.50,392.78 72.00,393.01 72.50,392.89 73.00,392.85 73.50,392.97 74.00,392.99 74.50,392.92 75.00,392.88 75.50,392.95 76.00,392.94 76.50,393.03 77.00,392.98 77.50,392.95 78.00,393.00 78.50,392.92 79.00,392.87 79.50,392.95 80.00,392.95 80.50,392.89 81.00,392.85 81.50,392.90 82.00,392.73 82.50,392.91 83.00,392.89 83.50,392.75 84.00,392.83 84.50,392.76 85.00,392.84 85.50,392.65 86.00,392.70 86.50,392.77 87.00,392.77 87.50,392.54 88.00,392.61 88.50,392.62 89.00,392.52 89.50,392.60 90.00,392.38 90.50,392.41 91.00,392.26 91.50,392.32 92.00,392.14 92.50,392.01 93.00,391.81 93.50,391.86 94.00,391.63 94.50,391.43 95.00,391.20 95.50,390.85 96.00,390.42 96.50,389.95 97.00,389.36 97.50,388.74 98.00,387.56 98.50,386.20 99.00,384.09 99.50,380.71 100.00,375.04 100.50,365.65 101.00,351.61 101.50,333.13 102.00,314.17 102.50,305.25 103.00,339.24 103.50,371.94 104.00,383.96 104.50,387.94 105.00,389.85 105.50,390.80 106.00,391.51 106.50,391.92 107.00,392.26 107.50,392.46 108.00,392.76 108.50,392.83 109.00,392.92 109.50,392.79 110.00,392.95 110.50,392.99 111.00,393.10 111.50,392.97 112.00,393.21 112.50,393.23 113.00,393.11 113.50,393.15 114.00,393.18 114.50,393.25 115.00,393.30 115.50,393.39 116.00,393.27 116.50,393.34 117.00,393.31 117.50,393.41 118.00,393.36 118.50,393.40 119.00,393.26 119.50,393.31 120.00,393.28 120.50,393.42 121.00,393.37 121.50,393.31 122.00,393.30 122.50,393.35 123.00,393.28 123.50,393.26 124.00,393.33 124.50,393.44 125.00,393.27 125.50,393.24 126.00,393.19 126.50,393.16 127.00,393.25 127.50,393.24 128.00,393.17 128.50,393.15 129.00,393.10 129.50,393.05 130.00,392.89 130.50,392.88 131.00,392.83 131.50,392.67 132.00,392.56 132.50,392.37 133.00,392.19 133.50,391.98 134.00,391.53 134.50,391.00 135.00,390.21 135.50,388.81 136.00,386.60 136.50,382.83 137.00,377.99 137.50,371.88 138.00,366.93 138.30,365.95 138.50,368.27 139.00,381.34 139.50,388.67 140.00,391.26 140.50,392.09 141.00,392.57 141.50,392.90 142.00,392.99 142.50,393.27 143.00,393.27 143.50,393.39 144.00,393.29 144.50,393.28 145.00,393.32 145.50,393.34 146.00,393.24 146.50,393.25 147.00,393.17 147.50,393.17 148.00,392.88 148.50,392.74 149.00,392.23 149.50,391.55 150.00,390.58 150.50,389.22 151.00,387.88 151.50,387.09 151.60,387.01 152.00,388.82 152.50,391.69 153.00,392.81 153.50,393.21 154.00,393.35 154.50,393.36 155.00,393.56 155.50,393.44 156.00,393.61 156.50,393.58 157.00,393.65 157.50,393.58 158.00,393.54 158.50,393.60 159.00,393.54 159.50,393.55 160.00,393.55 160.50,393.53 161.00,393.51 161.50,393.45 162.00,393.46 162.50,393.32 163.00,393.40 163.50,393.29 164.00,393.37 164.50,393.30 165.00,393.02 165.50,393.04 166.00,392.88 166.50,392.65 167.00,392.52 167.50,392.15 168.00,391.64 168.50,391.08 169.00,390.05 169.50,388.38 170.00,385.61 170.50,381.75 171.00,376.50 171.50,370.82 172.00,367.57 172.10,367.50 172.50,374.41 173.00,385.67 173.50,390.45 174.00,392.02 174.50,392.74 175.00,393.16 175.50,393.54 176.00,393.55 176.50,393.67 177.00,393.77 177.50,393.79 178.00,393.97 178.50,393.83 179.00,393.93 179.50,393.91 180.00,393.95 180.50,393.85 181.00,394.03 181.50,393.91 182.00,393.91 182.50,393.84 183.00,393.84 183.50,393.89 184.00,393.89 184.50,393.84 185.00,393.82 185.50,393.72 186.00,393.60 186.50,393.55 187.00,393.42 187.50,393.23 188.00,393.10 188.50,392.91 189.00,392.56 189.50,392.13 190.00,391.64 190.50,390.86 191.00,389.37 191.50,387.19 192.00,383.83 192.50,379.20 193.00,373.28 193.50,368.26 193.90,366.67 194.00,367.11 194.50,379.01 195.00,387.85 195.50,391.14 196.00,392.37 196.50,392.83 197.00,393.20 197.50,393.54 198.00,393.50 198.50,393.74 199.00,393.67 199.50,393.76 200.00,393.72 200.50,393.58 201.00,393.67 201.50,393.69 202.00,393.56 202.50,393.48 203.00,393.46 203.50,393.22 204.00,392.90 204.50,392.63 205.00,392.38 205.50,392.08 205.60,392.16 206.00,392.57 206.50,393.10 207.00,393.29 207.50,393.34 208.00,393.41 208.50,393.43 209.00,393.35 209.50,393.31 210.00,393.18 210.50,393.14 211.00,393.00 211.50,392.90 212.00,392.71 212.50,392.55 213.00,392.44 213.50,392.20 214.00,391.96 214.50,391.76 215.00,391.36 215.50,391.09 216.00,390.42 216.50,389.60 217.00,388.73 217.50,387.37 218.00,385.30 218.50,382.24 219.00,377.07 219.50,369.09 220.00,358.01 220.50,343.36 221.00,328.41 221.50,319.54 221.60,319.23 222.00,337.93 222.50,368.73 223.00,383.10 223.50,388.18 224.00,390.19 224.50,391.31 225.00,392.01 225.50,392.51 226.00,392.72 226.50,393.02 227.00,393.18 227.50,393.40 228.00,393.33 228.50,393.36 229.00,393.51 229.50,393.48 230.00,393.55 230.50,393.56 231.00,393.63 231.50,393.53 232.00,393.56 232.50,393.41 233.00,393.49 233.50,393.62 234.00,393.45 234.50,393.40 235.00,393.30 235.50,393.31 236.00,393.14 236.50,392.81 237.00,392.54 237.50,391.96 238.00,391.24 238.50,390.29 239.00,389.75 239.30,389.52 239.50,389.79 240.00,391.59 240.50,392.74 241.00,393.21 241.50,393.27 242.00,393.40 242.50,393.36 243.00,393.38 243.50,393.29 244.00,393.15 244.50,392.90 245.00,392.83 245.50,392.52 246.00,391.95 246.50,391.17 247.00,389.98 247.50,388.59 248.00,387.23 248.50,386.78 249.00,389.05 249.50,391.60 250.00,392.66 250.50,393.12 251.00,393.38 251.50,393.42 252.00,393.40 252.50,393.55 253.00,393.57 253.50,393.55 254.00,393.54 254.50,393.56 255.00,393.52 255.50,393.53 256.00,393.42 256.50,393.54 257.00,393.45 257.50,393.54 258.00,393.28 258.50,393.42 259.00,393.41 259.50,393.30 260.00,393.32 260.50,393.30 261.00,393.25 261.50,393.13 262.00,393.10 262.50,393.11 263.00,393.06 263.50,392.91 264.00,392.81 264.50,392.71 265.00,392.62 265.50,392.34 266.00,392.12 266.50,391.95 267.00,391.55 267.50,391.12 268.00,390.51 268.50,389.52 269.00,387.85 269.50,385.54 270.00,381.87 270.50,377.35 271.00,371.96 271.50,367.87 271.80,367.14 272.00,368.87 272.50,380.03 273.00,387.28 273.50,390.03 274.00,390.88 274.50,391.15 275.00,391.14 275.50,390.64 276.00,389.85 276.50,388.53 277.00,386.71 277.50,384.27 278.00,381.81 278.50,380.34 278.60,380.29 279.00,383.41 279.50,388.66 280.00,391.35 280.50,392.30 281.00,392.61 281.50,392.87 282.00,393.00 282.50,393.19 283.00,393.30 283.50,393.18 284.00,393.22 284.50,393.10 285.00,393.26 285.50,393.26 286.00,393.20 286.50,393.31 287.00,393.17 287.50,393.25 288.00,393.27 288.50,393.19 289.00,393.31 289.50,393.33 290.00,393.17 290.50,393.17 291.00,393.28 291.50,393.22 292.00,393.13 292.50,393.15 293.00,393.11 293.50,393.04 294.00,392.97 294.50,392.76 295.00,392.56 295.50,392.15 296.00,391.62 296.50,391.15 297.00,390.89 297.10,390.84 297.50,391.31 298.00,392.47 298.50,392.94 299.00,393.21 299.50,393.18 300.00,393.23 300.50,393.22 301.00,393.29 301.50,393.16 302.00,393.08 302.50,393.02 303.00,392.82 303.50,392.61 304.00,392.24 304.50,391.74 305.00,391.21 305.50,390.44 306.00,390.11 306.10,390.09 306.50,390.90 307.00,392.14 307.50,392.85 308.00,393.14 308.50,393.27 309.00,393.28 309.50,393.28 310.00,393.27 310.50,393.36 311.00,393.41 311.50,393.34 312.00,393.31 312.50,393.31 313.00,393.20 313.50,393.20 314.00,393.16 314.50,393.13 315.00,393.01 315.50,392.79 316.00,392.71 316.50,392.45 317.00,391.94 317.50,391.55 318.00,391.20 318.30,391.15 318.50,391.13 319.00,392.12 319.50,392.52 320.00,392.79 320.50,392.73 321.00,392.64 321.50,392.57 322.00,392.50 322.50,392.23 323.00,392.05 323.50,391.78 324.00,391.35 324.50,391.04 325.00,390.29 325.50,389.17 326.00,387.57 326.50,384.90 327.00,381.31 327.50,376.60 328.00,371.03 328.50,366.14 328.90,364.60 329.00,365.21 329.50,376.16 330.00,385.33 330.50,389.27 331.00,390.70 331.50,391.12 332.00,391.35 332.50,391.30 333.00,390.96 333.50,390.34 334.00,389.22 334.50,387.61 335.00,385.11 335.50,381.97 336.00,378.32 336.50,374.95 336.90,373.87 337.00,374.29 337.50,381.65 338.00,387.94 338.50,390.49 339.00,391.08 339.50,391.08 340.00,390.89 340.50,390.33 341.00,390.26 341.10,390.19 341.50,391.02 342.00,392.37 342.50,393.09 343.00,393.37 343.50,393.38 344.00,393.51 344.50,393.51 345.00,393.51 345.50,393.50 346.00,393.29 346.50,393.07 347.00,392.80 347.50,392.50 348.00,392.27 348.50,392.05 349.00,392.73 349.50,393.35 350.00,393.64 350.50,393.70 351.00,393.85 351.50,393.91 352.00,393.78 352.50,393.98 353.00,394.01 353.50,393.94 354.00,393.95 354.50,394.07 355.00,394.00 355.50,393.87 356.00,393.92 356.50,393.90 357.00,393.89 357.50,393.75 358.00,393.92 358.50,393.81 359.00,393.83 359.50,393.77 360.00,393.77 360.50,393.62 361.00,393.46 361.50,393.35 362.00,393.13 362.50,392.64 363.00,392.24 363.50,391.64 364.00,391.17 364.30,391.19 364.50,391.20 365.00,392.35 365.50,392.95 366.00,393.22 366.50,393.08 367.00,392.91 367.50,392.67 368.00,392.05 368.50,391.22 369.00,390.08 369.50,388.83 370.00,387.53 370.50,387.03 371.00,389.16 371.50,391.64 372.00,392.84 372.50,393.28 373.00,393.36 373.50,393.29 374.00,393.21 374.50,392.85 375.00,392.44 375.50,391.91 376.00,391.59 376.20,391.51 376.50,391.92 377.00,392.90 377.50,393.64 378.00,393.99 378.50,394.15 379.00,394.17 379.50,394.10 380.00,394.20 380.50,394.14 381.00,394.24 381.50,394.19 382.00,394.25 382.50,394.35 383.00,394.25 383.50,394.32 384.00,394.18 384.50,394.13 385.00,394.20 385.50,394.19 386.00,394.00 386.50,393.97 387.00,393.78 387.50,393.71 388.00,393.54 388.50,393.13 389.00,392.58 389.50,391.82 390.00,391.06 390.50,390.19 391.00,389.59 391.20,389.52 391.50,390.06 392.00,392.27 392.50,393.41 393.00,393.91 393.50,394.18 394.00,394.11 394.50,394.30 395.00,394.34 395.50,394.40 396.00,394.48 396.50,394.44 397.00,394.31 397.50,394.41 398.00,394.45 398.50,394.45 399.00,394.36 399.50,394.34 400.00,394.48 400.50,394.47 401.00,394.45 401.50,394.34 402.00,394.55 402.50,394.27 403.00,394.42 403.50,394.57 404.00,394.43 404.50,394.46 405.00,394.37 405.50,394.52 406.00,394.36 406.50,394.45 407.00,394.43 407.50,394.36 408.00,394.47 408.50,394.33 409.00,394.36 409.50,394.39 410.00,394.36 410.50,394.40 411.00,394.42 411.50,394.33 412.00,394.29 412.50,394.27 413.00,394.25 413.50,394.27 414.00,394.15 414.50,394.10 415.00,393.93 415.50,393.70 416.00,393.55 416.50,393.12 417.00,392.86 417.50,392.73 417.70,392.53 418.00,392.77 418.50,393.27 419.00,393.64 419.50,393.61 420.00,393.53 420.50,393.28 421.00,393.03 421.50,392.84 422.00,392.62 422.50,393.05 423.00,393.51 423.50,393.68 424.00,393.57 424.50,393.29 425.00,393.05 425.50,392.68 426.00,392.08 426.50,391.59 426.90,391.60 427.00,391.52 427.50,392.56 428.00,393.50 428.50,393.97 429.00,394.19 429.50,394.41 430.00,394.33 430.50,394.31 431.00,394.35 431.50,394.39 432.00,394.31 432.50,394.43 433.00,394.47 433.50,394.45 434.00,394.47 434.50,394.36 435.00,394.34 435.50,394.52 436.00,394.50 436.50,394.35 437.00,394.45 437.50,394.44 438.00,394.47 438.50,394.45 439.00,394.41 439.50,394.45 440.00,394.44 440.50,394.43 441.00,394.32 441.50,394.25 442.00,394.38 442.50,394.33 443.00,394.44 443.50,394.46 444.00,394.43 444.50,394.39 445.00,394.41 445.50,394.47 446.00,394.36 446.50,394.45 447.00,394.43 447.50,394.40 448.00,394.46 448.50,394.32 449.00,394.42 449.50,394.29 450.00,394.29 450.50,394.26 451.00,394.34 451.50,394.24 452.00,394.28 452.50,394.19 453.00,394.29 453.50,394.31 454.00,394.18 454.50,394.23 455.00,394.13 455.50,394.18 456.00,394.01 456.50,393.85 457.00,393.98 457.50,393.82 458.00,393.70 458.50,393.65 459.00,393.53 459.50,393.55 460.00,393.42 460.50,393.52 461.00,393.41 461.50,393.23 461.80,393.21 462.00,393.26 462.50,393.19 463.00,393.35 463.50,393.40 464.00,393.34 464.50,393.26 465.00,393.11 465.50,392.80 466.00,392.27 466.50,391.48 467.00,390.76 467.50,390.04 467.90,389.92 468.00,389.91 468.50,391.57 469.00,392.94 469.50,393.68 470.00,394.03 470.50,394.20 471.00,394.16 471.50,394.27 472.00,394.34 472.50,394.37 473.00,394.33 473.50,394.40 474.00,394.38 474.50,394.49 475.00,394.45 475.50,394.34 476.00,394.29 476.50,394.44 477.00,394.50 477.50,394.45 478.00,394.49 478.50,394.41 479.00,394.36 479.50,394.49 480.00,394.45 480.50,394.49 481.00,394.36 481.50,394.46 482.00,394.41 482.50,394.50 483.00,394.41 483.50,394.41 484.00,394.41 484.50,394.52 485.00,394.45 485.50,394.40 486.00,394.39 486.50,394.39 487.00,394.54 487.50,394.34 488.00,394.40 488.50,394.48 489.00,394.52 489.50,394.44 490.00,394.49 490.50,394.49 491.00,394.50 491.50,394.44 492.00,394.54 492.50,394.45 493.00,394.53 493.50,394.37 494.00,394.49 494.50,394.36 495.00,394.34 495.50,394.46 496.00,394.38 496.50,394.45 497.00,394.36 497.50,394.52 498.00,394.42 498.50,394.35 499.00,394.42 499.50,394.46 500.00,394.36 500.50,394.43 501.00,394.52 501.50,394.44 502.00,394.38 502.50,394.34 503.00,394.40 503.50,394.26 504.00,394.15 504.50,394.28 505.00,394.24 505.50,394.39 506.00,394.26 506.50,394.16 507.00,394.11 507.50,394.15 508.00,393.99 508.50,393.89 509.00,393.74 509.50,393.50 510.00,393.14 510.50,392.67 511.00,392.17 511.50,391.61 512.00,390.99 512.30,391.16 512.50,391.19 513.00,392.52 513.50,393.41 514.00,393.94 514.50,394.13 515.00,394.21 515.50,394.30 516.00,394.32 516.50,394.23 517.00,394.30 517.50,394.35 518.00,394.35 518.50,394.28 519.00,394.27 519.50,394.27 520.00,394.20 520.50,394.16 521.00,394.31 521.50,394.16 522.00,394.15 522.50,394.04 523.00,394.09 523.50,394.01 524.00,393.74 524.50,393.55 525.00,393.14 525.50,392.81 526.00,392.13 526.50,391.24 527.00,390.53 527.50,389.82 527.90,389.63 528.00,389.69 528.50,391.23 529.00,392.83 529.50,393.71 530.00,394.01 530.50,394.10 531.00,394.37 531.50,394.29 532.00,394.30 532.50,394.32 533.00,394.42"/>
<rect x="52.75" y="6.3" width="481.25" height="415.50" fill="none" stroke="#000" stroke-width="2"/>
<line x1="52.75" y1="421.8" x2="52.75" y2="425.70" stroke="#000" stroke-width="2"/>
<line x1="106.25" y1="421.8" x2="106.25" y2="429.50" stroke="#000" stroke-width="2"/>
<line x1="159.75" y1="421.8" x2="159.75" y2="425.70" stroke="#000" stroke-width="2"/>
<line x1="213.25" y1="421.8" x2="213.25" y2="429.50" stroke="#000" stroke-width="2"/>
<line x1="266.75" y1="421.8" x2="266.75" y2="425.70" stroke="#000" stroke-width="2"/>
<line x1="320.25" y1="421.8" x2="320.25" y2="429.50" stroke="#000" stroke-width="2"/>
<line x1="373.75" y1="421.8" x2="373.75" y2="425.70" stroke="#000" stroke-width="2"/>
<line x1="427.25" y1="421.8" x2="427.25" y2="429.50" stroke="#000" stroke-width="2"/>
<line x1="480.75" y1="421.8" x2="480.75" y2="425.70" stroke="#000" stroke-width="2"/>
<line x1="534.25" y1="421.8" x2="534.25" y2="429.50" stroke="#000" stroke-width="2"/>
<text transform="translate(106.25,452.15) scale(0.98,1.07)" text-anchor="middle" class="tk">10</text>
<text transform="translate(213.25,452.15) scale(0.98,1.07)" text-anchor="middle" class="tk">20</text>
<text transform="translate(320.25,452.15) scale(0.98,1.07)" text-anchor="middle" class="tk">30</text>
<text transform="translate(427.25,452.15) scale(0.98,1.07)" text-anchor="middle" class="tk">40</text>
<text transform="translate(534.25,452.15) scale(0.98,1.07)" text-anchor="middle" class="tk">50</text>
<text x="420.6" y="100.0" class="sl">SSZ-13-0.77</text>
<text x="422.4" y="188.4" class="sl">SSZ-13-0.55</text>
<text x="421.4" y="282.6" class="sl">SSZ-13-0.33</text>
<text x="421.4" y="384.3" class="sl">SSZ-13-0</text>

<text x="288.3" y="480.3" text-anchor="middle" class="ax">2&#952; (&#176;)</text>
<text transform="translate(23.0,213) rotate(-90)" text-anchor="middle" class="ay">Intensity (a.u.)</text>
</svg>
</body></html>
